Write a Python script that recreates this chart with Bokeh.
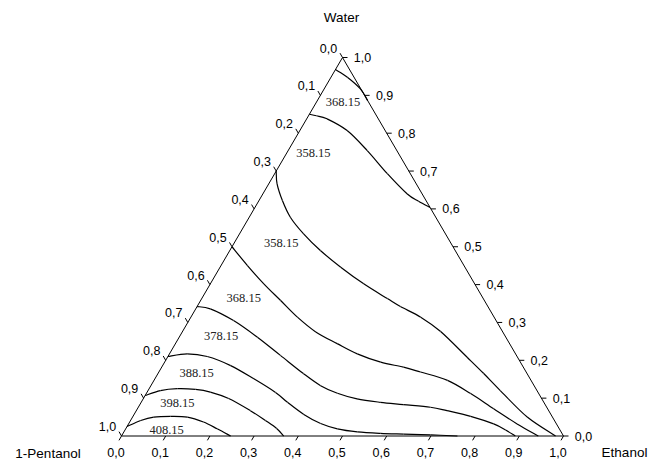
import math
from bokeh.plotting import figure
from bokeh.models import Range1d
from bokeh.core.properties import value
from bokeh.embed import file_html
from bokeh.resources import INLINE

# ---------------- data (mole fractions: ethanol, water) ----------------
vertex_names = ["Water", "1-Pentanol", "Ethanol"]
tick_values = [round(0.1 * i, 1) for i in range(11)]

A_e = [0.0, 0.037, 0.082, 0.114]
A_w = [0.968, 0.948, 0.917, 0.886]

B_e = [0.0, 0.018, 0.046, 0.107, 0.179, 0.255, 0.326, 0.362, 0.396]
B_w = [0.850, 0.846, 0.838, 0.807, 0.754, 0.693, 0.640, 0.620, 0.604]

C_e = [0.0, 0.019, 0.053, 0.093, 0.145, 0.205, 0.273, 0.347, 0.420, 0.460,
       0.520, 0.584, 0.678, 0.737, 0.797, 0.893, 0.982]
C_w = [0.700, 0.666, 0.622, 0.578, 0.534, 0.490, 0.446, 0.402, 0.363, 0.342,
       0.314, 0.276, 0.208, 0.165, 0.120, 0.050, 0.0]

D_e = [0.0, 0.059, 0.121, 0.181, 0.241, 0.302, 0.366, 0.425, 0.489, 0.547,
       0.592, 0.664, 0.734, 0.806, 0.879, 0.943]
D_w = [0.500, 0.451, 0.402, 0.358, 0.314, 0.275, 0.244, 0.217, 0.195, 0.182,
       0.169, 0.147, 0.112, 0.072, 0.032, 0.0]

E_e = [0.0, 0.033, 0.101, 0.177, 0.253, 0.329, 0.384, 0.432, 0.484, 0.541,
       0.596, 0.661, 0.703, 0.764, 0.826, 0.861, 0.891]
E_w = [0.342, 0.336, 0.305, 0.261, 0.213, 0.165, 0.133, 0.113, 0.098, 0.089,
       0.083, 0.076, 0.067, 0.052, 0.032, 0.016, 0.0]

F_e = [0.0, 0.040, 0.089, 0.154, 0.224, 0.291, 0.331, 0.384, 0.434, 0.479,
       0.528, 0.582, 0.636, 0.698, 0.760]
F_w = [0.210, 0.217, 0.210, 0.186, 0.151, 0.115, 0.089, 0.057, 0.033, 0.019,
       0.011, 0.007, 0.005, 0.003, 0.0]

G_e = [0.0, 0.028, 0.064, 0.106, 0.143, 0.193, 0.258, 0.305, 0.341, 0.367]
G_w = [0.107, 0.120, 0.125, 0.123, 0.116, 0.099, 0.067, 0.041, 0.020, 0.0]

H_e = [0.0, 0.023, 0.048, 0.085, 0.124, 0.167, 0.207, 0.247]
H_w = [0.025, 0.041, 0.050, 0.052, 0.050, 0.037, 0.019, 0.0]

curves = [(A_e, A_w), (B_e, B_w), (C_e, C_w), (D_e, D_w),
          (E_e, E_w), (F_e, F_w), (G_e, G_w), (H_e, H_w)]

label_text = ["368.15", "358.15", "358.15", "368.15", "378.15", "388.15", "398.15", "408.15"]
label_e = [0.060, 0.060, 0.106, 0.094, 0.094, 0.087, 0.083, 0.094]
label_w = [0.882, 0.748, 0.511, 0.365, 0.263, 0.166, 0.087, 0.016]

# ---------------- layout ----------------
S3 = math.sqrt(3) / 2
FW, FH = 654, 461
base_left, base_right = 121.0, 563.0
base_y, apex_y = 435.5, 57.0
kx = base_right - base_left
ky = (base_y - apex_y) / S3
x0, x1 = -base_left / kx, (FW - base_left) / kx
y1, y0 = base_y / ky, -(FH - base_y) / ky


def cart(e, w):
    return [ei + wi / 2 for ei, wi in zip(e, w)], [wi * S3 for wi in w]


p = figure(width=FW, height=FH, x_range=Range1d(x0, x1), y_range=Range1d(y0, y1),
           output_backend="svg", toolbar_location=None,
           x_axis_type=None, y_axis_type=None,
           min_border=0, min_border_left=0, min_border_right=0,
           min_border_top=0, min_border_bottom=0)
p.grid.visible = False
p.outline_line_color = None
p.background_fill_color = "white"
p.border_fill_color = "white"

# triangle edges
p.line([0, 1, 0.5, 0], [0, 0, S3, 0], line_color="black", line_width=1)

# ticks
L = 5.0
bx0, by0, bx1, by1 = [], [], [], []
for t in tick_values:
    # bottom (ethanol)
    bx0.append(t); by0.append(0.0)
    bx1.append(t - 0.5 * L / kx); by1.append(-S3 * L / ky)
    # right (water)
    xr, yr = 1 - t / 2, t * S3
    bx0.append(xr); by0.append(yr)
    bx1.append(xr + L / kx); by1.append(yr)
    # left (pentanol)
    xl, yl = (1 - t) / 2, (1 - t) * S3
    bx0.append(xl); by0.append(yl)
    bx1.append(xl - 0.5 * L / kx); by1.append(yl + S3 * L / ky)
p.segment(bx0, by0, bx1, by1, line_color="black", line_width=1)

lbl = [f"{t:.1f}".replace(".", ",") for t in tick_values]
tick_font = dict(text_font=value("Liberation Sans"), text_font_size="12.5px",
                 text_align="center", text_baseline="middle", text_color="black")
p.text(x=tick_values, y=[0.0] * len(tick_values), text=lbl,
       x_offset=-5.5, y_offset=16.5, **tick_font)
p.text(x=[1 - t / 2 for t in tick_values], y=[t * S3 for t in tick_values], text=lbl,
       x_offset=20, y_offset=0, **tick_font)
p.text(x=[(1 - t) / 2 for t in tick_values], y=[(1 - t) * S3 for t in tick_values], text=lbl,
       x_offset=-14, y_offset=-9.5, **tick_font)

# vertex names
name_font = dict(text_font=value("Liberation Sans"), text_font_size="13.5px",
                 text_align="center", text_baseline="middle", text_color="black")
p.text(x=[0.5], y=[S3], text=[vertex_names[0]], x_offset=-1, y_offset=-40, **name_font)
p.text(x=[0.0], y=[0.0], text=[vertex_names[1]], x_offset=-73.5, y_offset=17.5, **name_font)
p.text(x=[1.0], y=[0.0], text=[vertex_names[2]], x_offset=61, y_offset=16.5, **name_font)

# isotherm curves, drawn as smooth Catmull-Rom style bezier pieces through the points
sx0, sy0, sx1, sy1, c0x, c0y, c1x, c1y = [], [], [], [], [], [], [], []
for e, w in curves:
    cx, cy = cart(e, w)
    n = len(cx)
    for i in range(n - 1):
        ip = max(i - 1, 0)
        inx = min(i + 2, n - 1)
        sx0.append(cx[i]); sy0.append(cy[i])
        sx1.append(cx[i + 1]); sy1.append(cy[i + 1])
        c0x.append(cx[i] + (cx[i + 1] - cx[ip]) / 6.0)
        c0y.append(cy[i] + (cy[i + 1] - cy[ip]) / 6.0)
        c1x.append(cx[i + 1] - (cx[inx] - cx[i]) / 6.0)
        c1y.append(cy[i + 1] - (cy[inx] - cy[i]) / 6.0)
p.bezier(x0=sx0, y0=sy0, x1=sx1, y1=sy1, cx0=c0x, cy0=c0y, cx1=c1x, cy1=c1y,
         line_color="black", line_width=1.2)

lx, ly = cart(label_e, label_w)
p.text(x=lx, y=ly, text=label_text, text_font=value("Liberation Serif"),
       text_font_size="12.5px", text_align="center", text_baseline="middle",
       text_color="#222222")

open("out.html", "w").write(file_html(p, INLINE))
